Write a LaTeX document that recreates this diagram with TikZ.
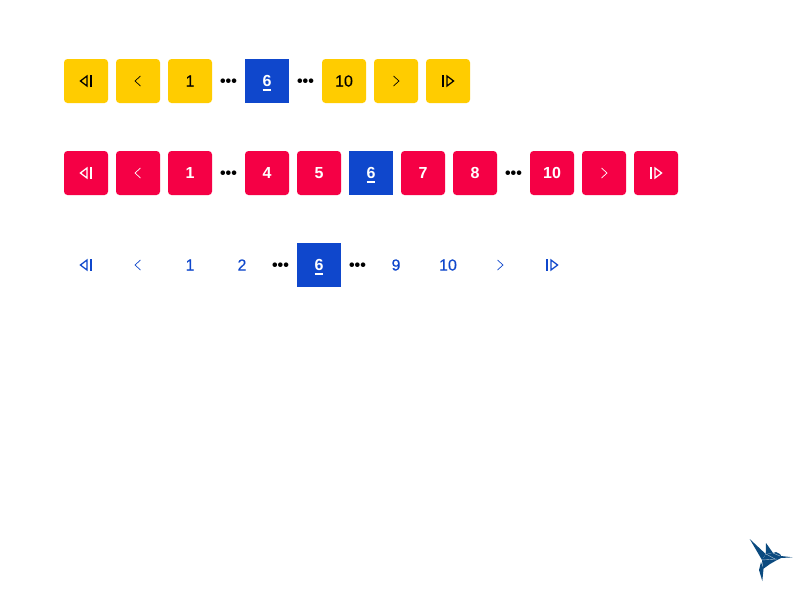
\documentclass[tikz,border=0pt]{standalone}
\usepackage{fontspec}
\setmainfont{Liberation Sans}
\newfontfamily\medfont[FakeBold=0.15]{Liberation Sans}
\definecolor{yel}{HTML}{FFCC00}
\definecolor{rd}{HTML}{F50045}
\definecolor{bl}{HTML}{0F47CC}
\definecolor{bird}{HTML}{0B4A7F}
\tikzset{
 x=1pt,y=-1pt,
 pg/.style={minimum width=44pt,minimum height=44pt,inner sep=0pt,rounded corners=3.5pt,font=\fontsize{16}{16}\selectfont\medfont},
 ypg/.style={pg,fill=yel,text=black},
 rpg/.style={pg,fill=rd,text=white,font=\fontsize{16}{16}\selectfont\rmfamily\bfseries},
 bpg/.style={pg,text=bl},
 cur/.style={pg,fill=bl,text=white,rounded corners=0pt,font=\fontsize{16}{16}\selectfont\rmfamily\bfseries},
 dots/.style={inner sep=0pt,text=black,font=\fontsize{16}{16}\selectfont\bfseries},
 ico/.style={line width=1.25pt,line join=miter},
 bar ico/.style={line width=1.9pt},
 thin ico/.style={line width=0.7pt},
}
\newcommand{\curtext}{6\llap{\smash{\rule[-4pt]{8.9pt}{2pt}}}}
\newcommand{\icofirst}[2]{\draw[ico,#2] ([shift={(1,0)}]#1.center) -- ++(0,-5) -- ++(-6.6,5) -- ++(6.6,5) -- cycle;
 \draw[bar ico,#2] ([shift={(4.6,-5.6)}]#1.center) -- ++(0,11.2);}
\newcommand{\icolast}[2]{\draw[ico,#2] ([shift={(-1,0)}]#1.center) -- ++(0,-5) -- ++(6.6,5) -- ++(-6.6,5) -- cycle;
 \draw[bar ico,#2] ([shift={(-4.6,-5.6)}]#1.center) -- ++(0,11.2);}
\newcommand{\icoprev}[2]{\draw[thin ico,#2] ([shift={(2.5,-5)}]#1.center) -- ++(-5.5,5) -- ++(5.5,5);}
\newcommand{\iconext}[2]{\draw[thin ico,#2] ([shift={(-2.5,-5)}]#1.center) -- ++(5.5,5) -- ++(-5.5,5);}
\begin{document}
\begin{tikzpicture}
\useasboundingbox (0,0) rectangle (800,600);
\fill[white] (0,0) rectangle (800,600);
% row 1
\node[ypg] (a1) at (86,81) {};
\node[ypg] (a2) at (138,81) {};
\node[ypg] (a3) at (190,81) {1};
\node[dots] (a4) at (228.5,83) {•••};
\node[cur] (a5) at (267,81) {\curtext};
\node[dots] (a6) at (305.5,83) {•••};
\node[ypg] (a7) at (344,81) {10};
\node[ypg] (a8) at (396,81) {};
\node[ypg] (a9) at (448,81) {};
\icofirst{a1}{black}
\icoprev{a2}{black}
\iconext{a8}{black}
\icolast{a9}{black}
% row 2
\node[rpg] (b1) at (86,173) {};
\node[rpg] (b2) at (138,173) {};
\node[rpg] (b3) at (190,173) {1};
\node[dots] (b4) at (228.5,175) {•••};
\node[rpg] (b5) at (267,173) {4};
\node[rpg] (b6) at (319,173) {5};
\node[cur] (b7) at (371,173) {\curtext};
\node[rpg] (b8) at (423,173) {7};
\node[rpg] (b9) at (475,173) {8};
\node[dots] (b10) at (513.5,175) {•••};
\node[rpg] (b11) at (552,173) {10};
\node[rpg] (b12) at (604,173) {};
\node[rpg] (b13) at (656,173) {};
\icofirst{b1}{white}
\icoprev{b2}{white}
\iconext{b12}{white}
\icolast{b13}{white}
% row 3
\node[bpg] (c1) at (86,265) {};
\node[bpg] (c2) at (138,265) {};
\node[bpg] (c3) at (190,265) {1};
\node[bpg] (c4) at (242,265) {2};
\node[dots] (c5) at (280.5,267) {•••};
\node[cur] (c6) at (319,265) {\curtext};
\node[dots] (c7) at (357.5,267) {•••};
\node[bpg] (c8) at (396,265) {9};
\node[bpg] (c9) at (448,265) {10};
\node[bpg] (c10) at (500,265) {};
\node[bpg] (c11) at (552,265) {};
\icofirst{c1}{bl}
\icoprev{c2}{bl}
\iconext{c10}{bl}
\icolast{c11}{bl}
% logo
\fill[bird] (749.7,539) -- (765.7,554) -- (762,560) -- cycle;
\fill[bird] (766,543) -- (773,553) -- (765.7,554) -- cycle;
\fill[bird] (762,560) -- (766,554) -- (773,553) -- (776,552) -- (780,554) -- (781,556) -- (792.7,557.3) -- (781,558) -- (777,560) -- (770,564) -- (763,569) -- cycle;
\fill[bird] (761,562) -- (759,570) -- (762.3,581) -- (763.5,569) -- cycle;
\draw[white!70!bird,line width=0.4pt] (762,560) -- (777,559) (766,554) -- (775,559) (773,553) -- (780,556);
\end{tikzpicture}
\end{document}
